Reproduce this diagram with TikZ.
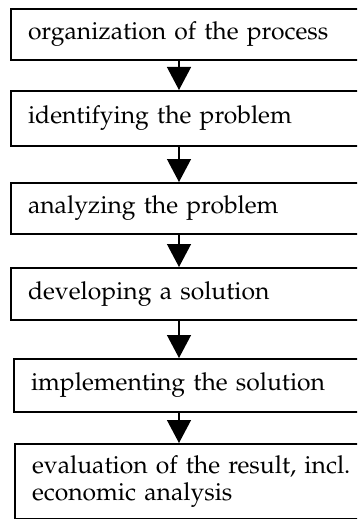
\documentclass[tikz,border=0pt]{standalone}
\usepackage[T1]{fontenc}
\usepackage{mathpazo}
\usetikzlibrary{arrows.meta}
\tikzset{
  stepbox/.style={draw, line width=2pt, anchor=north west, rectangle,
    inner xsep=17pt, inner ysep=0pt, align=left, text width=340pt,
    font=\fontsize{24.7}{27}\selectfont},
  flow/.style={line width=1.3pt, -{Triangle[length=23pt,width=24pt]}}
}
\begin{document}
\begin{tikzpicture}[x=1pt,y=-1pt]
\useasboundingbox (0,0) rectangle (357,519);
\clip (0,0) rectangle (357,519);
\node[stepbox, minimum height=51pt] (b1) at (10,8) {organization of the process};
\node[stepbox, minimum height=55pt] (b2) at (10,90) {identifying the problem};
\node[stepbox, minimum height=51pt] (b3) at (10,182) {analyzing the problem};
\node[stepbox, minimum height=52pt] (b4) at (10,267) {developing a solution};
\node[stepbox, minimum height=53pt] (b5) at (13,358) {implementing the solution};
\node[stepbox, minimum height=75pt] (b6) at (14,443) {evaluation of the result, incl.\\economic analysis};
\coordinate (ax) at (179,0);
\draw[flow] (b1.south -| ax) -- (b2.north -| ax);
\draw[flow] (b2.south -| ax) -- (b3.north -| ax);
\draw[flow] (b3.south -| ax) -- (b4.north -| ax);
\draw[flow] (b4.south -| ax) -- (b5.north -| ax);
\draw[flow] (b5.south -| ax) -- (b6.north -| ax);
\end{tikzpicture}
\end{document}
